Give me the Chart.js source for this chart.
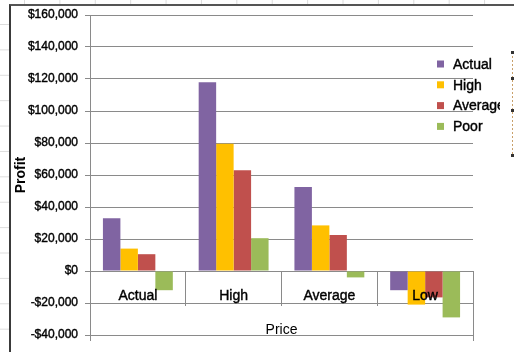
<!DOCTYPE html>
<html>
<head>
<meta charset="utf-8">
<title>Profit by Price</title>
<script src="https://cdn.jsdelivr.net/npm/chart.js@4"></script>
<style>
    html, body { margin: 0; padding: 0; }
    body {
        width: 514px; height: 352px; overflow: hidden; position: relative;
        background-color: #fff;
        /* worksheet cells behind the chart object */
        background-image:
            linear-gradient(to right, #dcdcdc 1px, transparent 1px),
            linear-gradient(to bottom, #dcdcdc 1px, transparent 1px);
        background-size: 35.4px 25.4px;
        background-position: 24px 24px;
    }
    #frame {
        position: absolute; left: 9px; top: 4px; right: -10px; bottom: -10px;
        background: #fff;
        border-left: 2px solid #3a3a3a;
        border-top: 2px solid #555;
    }
    #chart { position: absolute; left: 0; top: 0; }
</style>
</head>
<body>
<div id="frame"></div>
<canvas id="chart" width="514" height="352"></canvas>
<script>
// Categories along the price axis
const categories = ['Actual', 'High', 'Average', 'Low'];

// Series (profit per price scenario)
const seriesNames = ['Actual', 'High', 'Average', 'Poor'];
const actualProfit = [33000, 118000, 52500, -12000];
const highProfit = [14000, 79500, 28500, -21000];
const averageProfit = [10500, 63000, 22500, -16500];
const poorProfit = [-12000, 20500, -4000, -29000];

// Value axis range
const yMin = -40000;
const yMax = 160000;
const yStep = 20000;

const seriesColors = ['#8064A2', '#FFC000', '#C0504D', '#9BBB59'];
const GRID = '#8a8a8a';
const FONT = "'Liberation Sans', Arial, sans-serif";

function formatMoney(v) {
    const s = '$' + Math.abs(v).toLocaleString('en-US');
    return v < 0 ? '-' + s : s;
}

// Legend drawn over the plot, top right, like the worksheet chart
const sideLegend = {
    id: 'sideLegend',
    afterDraw(chart) {
        const ctx = chart.ctx;
        ctx.save();
        ctx.beginPath();
        ctx.rect(430, 40, 70, 110);
        ctx.clip();
        ctx.font = '14px ' + FONT;
        ctx.textBaseline = 'middle';
        ctx.lineWidth = 0.4;
        ctx.strokeStyle = '#000';
        chart.data.datasets.forEach((ds, i) => {
            const y = 64 + i * 20.8;
            ctx.fillStyle = ds.backgroundColor;
            ctx.fillRect(437, y - 3.5, 7, 7);
            ctx.fillStyle = '#000';
            ctx.fillText(ds.label, 453, y + 1);
            ctx.strokeText(ds.label, 453, y + 1);
        });
        ctx.restore();
    }
};

// Closing lines of the category box below zero, plus the edge of the next object
const axisBox = {
    id: 'axisBox',
    afterDatasetsDraw(chart) {
        const ctx = chart.ctx;
        const area = chart.chartArea;
        const zero = chart.scales.y.getPixelForValue(0);
        ctx.save();
        ctx.strokeStyle = GRID;
        ctx.lineWidth = 1;
        ctx.beginPath();
        ctx.moveTo(Math.round(area.right) + 0.5, zero);
        ctx.lineTo(Math.round(area.right) + 0.5, area.bottom + 6);
        ctx.moveTo(Math.round(area.left) + 0.5, area.bottom);
        ctx.lineTo(Math.round(area.left) + 0.5, area.bottom + 6);
        ctx.stroke();

        // dashed outline of a selected title just past the right edge
        ctx.strokeStyle = '#c9a06a';
        ctx.setLineDash([2, 2]);
        ctx.beginPath();
        ctx.moveTo(512.5, 52);
        ctx.lineTo(512.5, 156);
        ctx.stroke();
        ctx.setLineDash([]);
        ctx.fillStyle = '#333';
        [52, 78, 110, 155].forEach(y => ctx.fillRect(511, y - 1, 3, 3));
        ctx.restore();
    }
};

const datasets = [actualProfit, highProfit, averageProfit, poorProfit].map((values, i) => ({
    label: seriesNames[i],
    data: values,
    backgroundColor: seriesColors[i],
    borderWidth: 0,
    categoryPercentage: 0.73,
    barPercentage: 1.0
}));

new Chart(document.getElementById('chart').getContext('2d'), {
    type: 'bar',
    data: { labels: categories, datasets: datasets },
    options: {
        responsive: false,
        animation: false,
        events: [],
        layout: { padding: { left: 10, right: 41, top: 15, bottom: 17 } },
        plugins: {
            legend: { display: false },
            tooltip: { enabled: false }
        },
        scales: {
            x: {
                position: { y: 0 },
                afterFit: scale => { scale.height = 67.4; },
                grid: {
                    drawOnChartArea: false,
                    drawTicks: true,
                    tickLength: 34,
                    color: GRID,
                    offset: true
                },
                border: { color: GRID },
                ticks: {
                    z: 1,
                    padding: -17,
                    color: '#000',
                    textStrokeColor: '#000',
                    textStrokeWidth: 0.4,
                    font: { family: FONT, size: 14 }
                },
                title: {
                    display: true,
                    text: 'Price',
                    color: '#000',
                    padding: 0,
                    font: { family: FONT, size: 14 }
                }
            },
            y: {
                min: yMin,
                max: yMax,
                afterFit: scale => { scale.width = 80; },
                grid: { color: GRID, tickLength: 5 },
                border: { color: GRID },
                ticks: {
                    stepSize: yStep,
                    padding: 7,
                    color: '#000',
                    textStrokeColor: '#000',
                    textStrokeWidth: 0.4,
                    font: { family: FONT, size: 12 },
                    callback: v => formatMoney(v)
                },
                title: {
                    display: true,
                    text: 'Profit',
                    color: '#000',
                    padding: { top: 3, bottom: 0 },
                    font: { family: FONT, size: 14, weight: 'bold' }
                }
            }
        }
    },
    plugins: [sideLegend, axisBox]
});
</script>
</body>
</html>
